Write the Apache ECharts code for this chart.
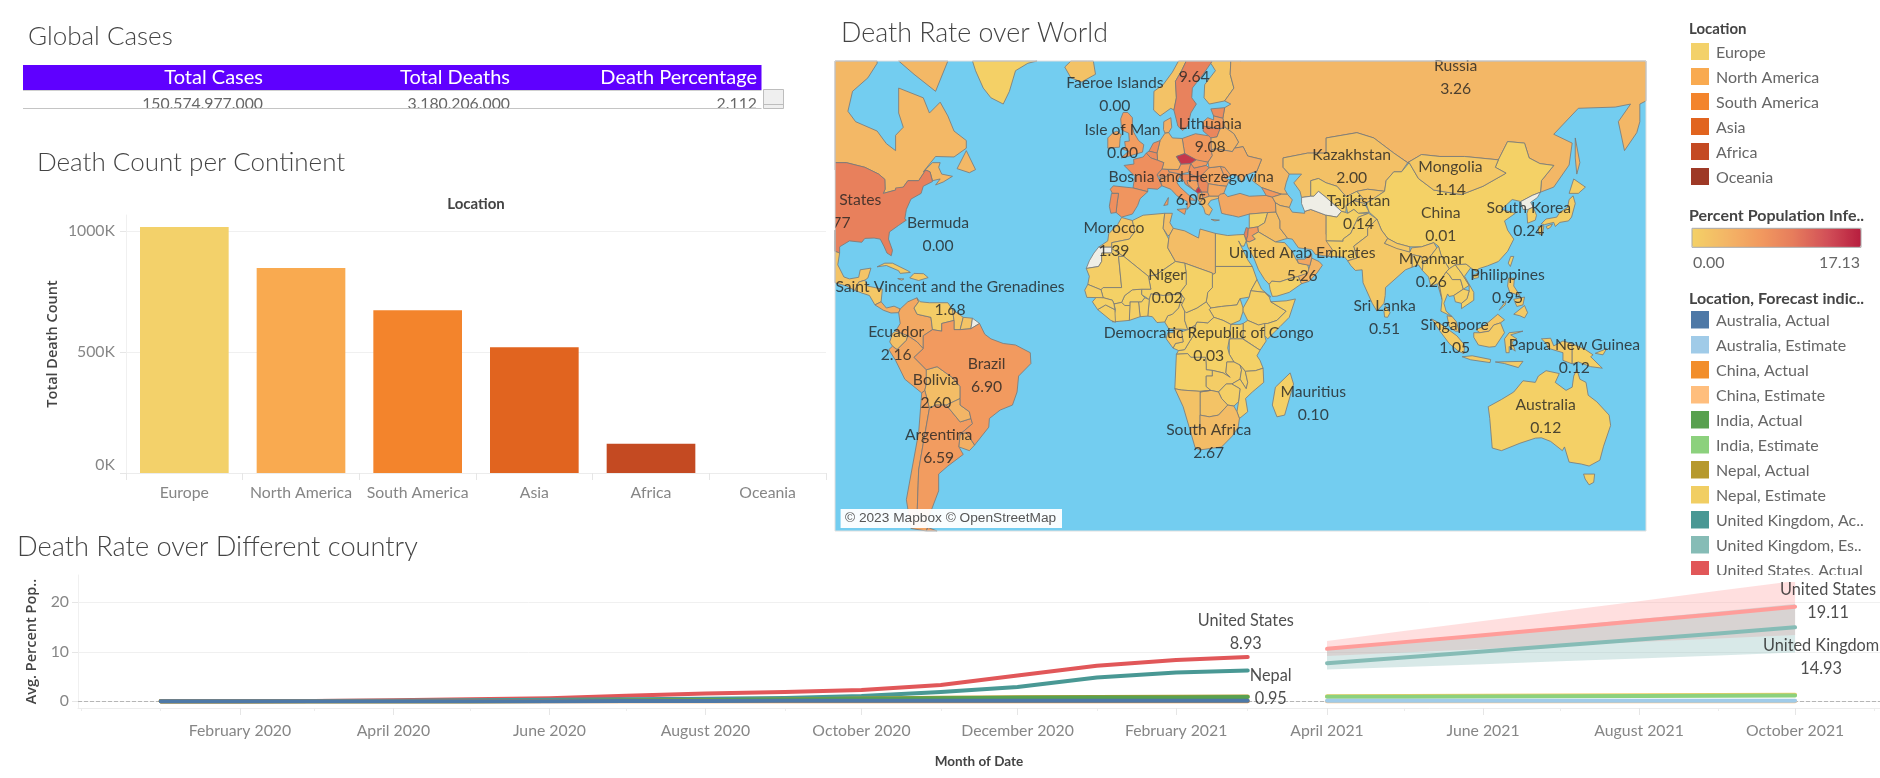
<!DOCTYPE html>
<html><head><meta charset="utf-8">
<style>html,body{margin:0;padding:0;background:#fff}#c{width:1880px;height:778px}</style>
<script src="https://cdn.jsdelivr.net/npm/echarts@6/dist/echarts.min.js"></script>
</head><body><div id="c"></div>
<script>
// ---------- DATA ----------
const tableHeaders = ['Total Cases','Total Deaths','Death Percentage'];
const tableValues = ['150,574,977.000','3,180,206.000','2.112'];

const continents = ['Europe','North America','South America','Asia','Africa','Oceania'];
const continentDeaths = [1016000,847000,672000,520000,121000,0];
const continentColors = ['#f3d16a','#f9aa50','#f3842c','#e1641f','#c44a22','#9e3926'];
const barTicks = [0,500000,1000000];

const forecastLegend = ['Australia, Actual','Australia, Estimate','China, Actual','China, Estimate','India, Actual','India, Estimate','Nepal, Actual','Nepal, Estimate','United Kingdom, Ac..','United Kingdom, Es..','United States, Actual'];
const forecastColors = ['#4e79a7','#a0cbe8','#f28e2b','#ffbe7d','#59a14f','#8cd17d','#b6992d','#f1ce63','#499894','#86bcb6','#e15759'];

const actualMonths = ['2020-01','2020-02','2020-03','2020-04','2020-05','2020-06','2020-07','2020-08','2020-09','2020-10','2020-11','2020-12','2021-01','2021-02','2021-03'];
const estimateMonths = ['2021-04','2021-05','2021-06','2021-07','2021-08','2021-09','2021-10'];
const usActual        = [0,0.01,0.05,0.2,0.4,0.6,1.1,1.6,1.9,2.3,3.3,5.2,7.2,8.35,8.93];
const ukActual        = [0,0,0.05,0.1,0.2,0.3,0.4,0.5,0.65,1.05,1.9,2.9,4.8,5.8,6.2];
const nepalActual     = [0,0,0,0,0.01,0.05,0.1,0.2,0.35,0.55,0.72,0.82,0.88,0.92,0.95];
const indiaActual     = [0,0,0,0,0.01,0.05,0.1,0.22,0.38,0.52,0.62,0.7,0.75,0.78,0.85];
const chinaActual     = [0,0.01,0.01,0.01,0.01,0.01,0.01,0.01,0.01,0.01,0.01,0.01,0.01,0.01,0.01];
const australiaActual = [0,0,0.02,0.03,0.03,0.03,0.05,0.08,0.1,0.11,0.11,0.11,0.11,0.11,0.12];
const usEstimate      = [10.6,11.95,13.35,14.75,16.2,17.65,19.11];
const usUpper         = [12.2,14.2,16.2,18.2,20.2,22.3,24.3];
const usLower         = [9.16,9.85,10.55,11.25,11.95,12.7,13.4];
const ukEstimate      = [7.7,8.85,10.05,11.25,12.5,13.7,14.93];
const ukUpper         = [10.6,12.1,13.6,15.1,16.6,18.15,19.66];
const ukLower         = [6.4,6.95,7.5,8.1,8.65,9.25,9.83];
const nepalEstimate   = [1.0,1.05,1.1,1.15,1.2,1.25,1.3];
const indiaEstimate   = [0.9,0.94,0.98,1.02,1.06,1.1,1.15];
const chinaEstimate   = [0.01,0.01,0.01,0.01,0.01,0.01,0.01];
const australiaEstimate = [0.1,0.1,0.11,0.11,0.11,0.12,0.12];
const lineTickMonths = ['2020-02','2020-04','2020-06','2020-08','2020-10','2020-12','2021-02','2021-04','2021-06','2021-08','2021-10'];
const lineMinorMonths = ['2019-12','2020-01','2020-03','2020-05','2020-07','2020-09','2020-11','2021-01','2021-03','2021-05','2021-07','2021-09','2021-11'];
const lineYTicks = [0,10,20];
const monthNames = ['January','February','March','April','May','June','July','August','September','October','November','December'];
const lineLabelNames = ['United States','Nepal','United States','United Kingdom'];
const lineLabelRates = ['8.93','0.95','19.11','14.93'];
const lineLabelMonths = ['2021-03','2021-03','2021-10','2021-10'];
const lineLabelValues = [8.93,0.95,19.11,14.93];

// labelled map places
const placeNames = ['Russia','','Faeroe Islands','Isle of Man','Lithuania','Bosnia and Herzegovina','Kazakhstan','Mongolia','Tajikistan','China','South Korea','Bermuda','Morocco','United Arab Emirates','Myanmar','Niger','Philippines','Saint Vincent and the Grenadines','Sri Lanka','Singapore','Ecuador','Democratic Republic of Congo','Papua New Guinea','Brazil','Bolivia','Mauritius','Australia','South Africa','Argentina','United States'];
const placeRates = [3.26,9.64,0.00,0.00,9.08,6.05,2.00,1.14,0.14,0.01,0.24,0.00,1.39,5.26,0.26,0.02,0.95,1.68,0.51,1.05,2.16,0.03,0.12,6.90,2.60,0.10,0.12,2.67,6.59,9.77];
const placeLon = [103.1,18.1,-7.7,-5.2,23.3,17.1,69.3,101.4,71.5,98.3,126.9,-65.2,-8.0,53.2,95.2,9.3,120,-61.3,80,102.8,-78.8,22.8,141.7,-49.4,-65.9,56.8,132.4,22.8,-65,-98.7];
const placeLat = [64.1,64.1,61.6,53.4,54.4,43.2,48.1,45.5,37.3,34,35.4,31.3,30,22.6,20.7,15.7,16,12.1,6.1,-0.1,-2.5,-2.8,-6.8,-12.8,-17.9,-21.4,-25.5,-32.6,-33.9,37.6];

// percent of population per country (choropleth)
const countryRates = {
 'United States':9.77,Canada:3.2,Mexico:1.7,Guatemala:1.2,Panama:4.2,Cuba:0.8,Hispaniola:0.9,Jamaica:1.6,Greenland:0.1,Iceland:1.9,
 'United Kingdom':6.5,Ireland:4.9,Norway:1.9,Sweden:9.64,Finland:1.6,Denmark:4.3,Estonia:8.5,Latvia:6.5,Lithuania:9.08,Belarus:3.7,Poland:7.0,Germany:3.7,Netherlands:8.2,Belgium:8.5,France:8.1,Spain:7.4,Portugal:8.1,Italy:6.5,Sicily:6.5,Sardinia:6.5,Switzerland:7.5,Austria:6.8,Czechia:15.4,Slovakia:7.0,Hungary:8.0,Croatia:8.0,'Bosnia and Herzegovina':6.05,Serbia:8.8,Montenegro:15.5,Albania:4.4,'North Macedonia':6.7,Romania:5.4,Bulgaria:5.3,Greece:3.0,Crete:3.0,Moldova:6.0,Ukraine:4.5,
 Russia:3.26,Sakhalin:3.26,Turkey:5.3,Georgia:7.0,Azerbaijan:3.2,Syria:0.1,Israel:9.7,Jordan:6.7,Iraq:2.6,'Saudi Arabia':1.2,Yemen:0.02,Oman:3.5,'United Arab Emirates':5.26,Iran:2.9,Uzbekistan:0.25,Kazakhstan:2.0,Kyrgyzstan:1.4,Tajikistan:0.14,Afghanistan:0.15,Pakistan:0.36,India:1.2,Nepal:1.0,Bangladesh:0.45,'Sri Lanka':0.51,
 China:0.01,Hainan:0.01,Mongolia:1.14,Taiwan:0.01,'South Korea':0.24,Honshu:0.4,Hokkaido:0.4,Kyushu:0.4,Shikoku:0.4,Myanmar:0.26,Thailand:0.1,Laos:0.01,Vietnam:0.01,Cambodia:0.1,'Malaysia':1.1,'Sarawak':1.1,Sumatra:0.6,Java:0.6,Kalimantan:0.6,Sulawesi:0.6,'West Papua':0.6,Sunda:0.6,Luzon:0.95,Mindanao:0.95,Visayas:0.95,Palawan:0.95,'Papua New Guinea':0.12,'New Britain':0.12,Australia:0.12,Tasmania:0.12,
 Morocco:1.39,Mauritania:0.4,Algeria:0.27,Tunisia:2.3,Libya:2.5,Egypt:0.2,Sudan:0.08,'South Sudan':0.1,Eritrea:0.1,Ethiopia:0.2,Somalia:0.08,Kenya:0.27,Uganda:0.09,Tanzania:0.01,'Democratic Republic of Congo':0.03,Congo:0.18,Gabon:1.0,Cameroon:0.25,'Central African Republic':0.1,Chad:0.03,Niger:0.02,Nigeria:0.08,Benin:0.1,Ghana:0.3,Burkina:0.06,Mali:0.05,'Ivory Coast':0.17,Liberia:0.1,Guinea:0.17,Senegal:0.23,Angola:0.07,Zambia:0.5,Malawi:0.17,Mozambique:0.22,Zimbabwe:0.25,Botswana:1.8,Namibia:1.9,'South Africa':2.67,Madagascar:0.1,
 Colombia:5.2,Venezuela:0.6,Guyana:1.5,Suriname:1.6,Ecuador:2.16,Peru:5.3,Bolivia:2.6,Chile:5.8,Argentina:6.59,'Tierra del Fuego':6.59,Paraguay:3.5,Uruguay:4.2,Brazil:6.9
};
const noDataCountries = ['Western Sahara','Turkmenistan','French Guiana','North Korea'];

// simplified outlines, flat lon,lat lists (painted in this order)
const countryOutlines = {
'Canada':[-125,49,-95,49,-89,48,-84.5,46.5,-82.5,45.3,-82.4,43,-83,42,-79,42.8,-76.5,43.5,-75,45,-71.5,45,-69.2,47.4,-67.8,47,-67,45,-64.5,45.4,-66,44,-63.5,44.7,-60.5,46,-64,46.5,-65,48,-64.5,49,-67,49,-70,47,-66,50.3,-60,50.2,-56,52,-56,53.5,-60,55.3,-62,58,-64.5,60.3,-68,58.5,-70,61,-78,62.5,-78,58.5,-76.5,56,-79,54.5,-79,51.5,-82,52.9,-85,55.3,-92,57,-94.5,58.8,-93,62,-88,64,-85,66,-85,67,-125,67],
'Baffin':[-78,67,-73,64.5,-66,62,-62,67],
'Newfoundland':[-59,47.7,-56,51.5,-53,47.5,-55,46.8],
'United States':[-125,49,-95,49,-89,48,-84.5,46.5,-82.5,45.3,-82.4,43,-83,42,-79,42.8,-79,43.3,-76.5,43.5,-75,45,-71.5,45,-69.2,47.4,-67.8,47,-67,44.8,-70,43.7,-70.7,42,-74,40.6,-75.5,38,-76,35.5,-75.5,35.2,-78,33.8,-81,32,-81.3,30,-80,26.8,-80.4,25.2,-81.8,26,-82.8,28,-84,30,-86,30.3,-89,30.2,-90,29.1,-94,29.5,-97.2,27.8,-97.2,26,-99,26.5,-101,29.7,-106,31.8,-117,32.5,-125,40],
'Mexico':[-117,32.5,-106,31.8,-101,29.7,-99,26.5,-97.2,26,-97.8,22.5,-95.8,18.8,-94,18.2,-91,18.7,-90.5,21,-87,21.5,-88,18.5,-89,17.8,-91,17.2,-92.2,14.6,-95,16,-100,17,-105,20,-110,27],
'Guatemala':[-92.2,14.6,-91,17.2,-89,17.8,-88.2,16,-83.3,15,-83.7,11,-85.7,10,-87.5,13,-90,13.8],
'Panama':[-83.7,11,-82,9,-79.5,9.6,-77.5,8.7,-78,7.5,-80.5,7.4,-83,8.3,-85.7,10],
'Cuba':[-85,21.9,-82.5,23,-80,23,-75,20.7,-74.2,20.2,-77.5,19.9,-78,20.7,-82,22.3],
'Hispaniola':[-74.4,18.5,-73,19.9,-69.9,19.8,-68.4,18.6,-71.5,17.7],
'Jamaica':[-78.3,18.3,-76.3,18.2,-77,17.8],
'Greenland':[-54,67,-53,65,-50.5,62.5,-48,61,-44,60,-42,62,-40,65,-36,66,-33,67],
'Iceland':[-24,65.5,-22,64,-18.5,63.4,-14,64.5,-14.7,66.3,-16.5,66.5,-22,66.3],
'United Kingdom':[-5.7,50,-3.5,50.3,1.3,51.2,1.7,52.7,0,53.5,-1.5,55,-2,56,-2,57.7,-3.5,58.6,-5,58.6,-5.8,57.5,-5.5,55.5,-3.2,54.9,-3,53.4,-4.5,53.3,-4.3,52.3,-5.2,51.8,-3.2,51.4],
'Ireland':[-10,52,-6.2,52.2,-6,53.9,-5.6,54.6,-7,55.3,-8.3,55,-10,54],
'Norway':[4.9,59,7,58,10.5,59.3,11.5,59,12.3,61,12,63.5,14,65,15.5,67,13,67,11,64.8,8,63,5,62],
'Sweden':[11.5,59,12.8,56.2,14.3,55.4,16,56.2,17,58.5,18.8,60,17.3,61,17.5,62.5,21,64.5,23.5,66,24,67,15.5,67,14,65,12,63.5,12.3,61],
'Finland':[24,67,23.5,66,25,65,21.5,63,21.3,61,23,60,28,60.5,31,62.5,29.8,64.5,30,67],
'Denmark':[8.2,57,10.5,57.7,10.8,56,9.8,55,8.6,54.9,8.1,55.6],
'Russia':[28,59.4,30,60,28,60.5,31,62.5,29.8,64.5,30,67,170,67,170,60.5,163,60,163,57,162,55,158,51.5,156,57,160,60,155,59.5,143,59.3,135,54.7,141,53,140,48.5,135,43.5,130.7,42.3,131,45,135,48.4,130.5,48.8,127,50,125.5,53,120,53.3,117,49.6,106,50.3,98,50.3,92,50.7,87.5,49,83,51,76.5,54,71,55,61,54,61,51,55,51,47,50,47,48,49,46.5,48,44.5,47.5,43,48.4,41.8,46.5,41.8,43.5,42.5,40,43.4,37,45,38.5,47.2,40,49.7,35.5,50.4,34,52.3,31.2,52,32.5,53.2,31,54.8,28.1,56,27.4,57.6],
'Sakhalin':[142,54,143.5,49,142.5,46.5,142,50],
'Estonia':[23.5,59.2,28,59.4,27.4,57.6,24.4,58],
'Latvia':[21,57,22.5,57.7,24.4,57.3,24.4,58,27.4,57.6,28.1,56,26.5,55.7,21,56.2],
'Lithuania':[21,56.2,26.5,55.7,25.5,54.2,23.5,54,22.8,54.4,21,55.3],
'Belarus':[23.5,54,25.5,54.2,26.5,55.7,28.1,56,31,54.8,32.5,53.2,31.2,52,30.5,51.3,25,51.9,23.6,51.6],
'Poland':[14.2,53.9,18.5,54.8,22.8,54.4,23.5,54,23.6,51.6,24,50.5,22.6,49.1,19,49.4,15,50.9,14.7,52],
'Germany':[6,51,7,53.5,8.6,54.9,9.8,55,11,54,14.2,53.9,14.7,52,15,50.9,12.3,50.3,13.8,48.7,13,47.5,7.6,47.6,8.2,49,6.2,49.5],
'Netherlands':[3.4,51.4,4.8,53,7,53.5,6,51],
'Belgium':[2.5,51,3.4,51.4,6,51,6.2,49.5,4,50],
'France':[2.5,51,4,50,6.2,49.5,8.2,49,7.6,47.6,6,46.3,7.6,43.8,6.2,43,3,43.2,3,42.4,-1.8,43.3,-1.2,46,-4.7,48.4,-1.5,48.7,-1.6,49.7,1.5,50.2],
'Spain':[-9.2,43,-8.2,43.8,-1.8,43.3,3,42.4,0.5,40.7,-0.3,39,-2,36.8,-5.5,36,-7.3,37.2,-7,39.5,-6.5,42,-8.5,42],
'Portugal':[-8.8,42,-6.5,42,-7,39.5,-7.3,37.2,-9,37,-9.5,38.8],
'Italy':[7.6,43.8,6.9,45.8,10,47,13.7,46.5,12.5,44.5,13.5,43.5,16,41.8,18.5,40.2,16.8,40.4,16.8,38.9,15.8,38,15.8,40,12.5,41.4,10.5,43],
'Sicily':[12.5,38,15.5,38.2,15,36.7],
'Sardinia':[8.2,39,9.7,41,9.5,39.2],
'Switzerland':[6,46.3,7.6,47.6,9.6,47.5,10,46.8,9,45.9,6.9,45.8],
'Austria':[9.6,47.5,13,47.5,13.8,48.7,17,48.8,16.2,46.9,13.7,46.5,10,47],
'Czechia':[12.3,50.3,15,50.9,18.8,49.6,17,48.8,13.8,48.7],
'Slovakia':[17,48.8,18.8,49.6,19,49.4,22.6,49.1,22,48.4,18,47.8],
'Hungary':[16.2,46.9,17,48.8,18,47.8,22,48.4,22.9,47.9,21,46.2,18.8,45.9,16.6,46.5],
'Croatia':[13.6,45.5,13.7,46.4,16.6,46.5,18.9,45.9,19.2,45,15.8,45,16,44.2,17.7,43,18.5,42.5,15.2,44.2,14.5,45.2],
'Bosnia and Herzegovina':[15.8,45,19.2,45,19.5,43.6,18.5,42.6,17.7,43,16,44.2],
'Serbia':[19.2,45,18.9,45.9,20.3,46.1,22.7,44.3,22.5,42.3,20.5,42.3,19.5,43.6],
'Montenegro':[18.5,42.5,19.5,43.6,20.5,42.3,19.3,42],
'Albania':[19.3,42,20.5,42.3,21,40.8,20,39.7,19.3,40.5],
'North Macedonia':[20.5,42.3,22.5,42.3,23,41.3,21,40.8],
'Romania':[20.3,46.1,22.9,47.9,26.6,48.2,28.2,45.5,29.7,45.2,28.6,43.7,26,43.9,22.7,44.3],
'Bulgaria':[22.7,44.3,26,43.9,28.6,43.7,27.7,42,26,41.3,23,41.3,22.5,42.3],
'Greece':[21,40.8,23,41.3,26,41.3,26,40.8,23.5,40.3,22.6,39.3,24,38,23,36.5,21.7,36.9,21.2,38.3,20,39.7],
'Crete':[23.6,35.4,26.3,35.2,24.8,35],
'Moldova':[26.6,48.2,28,48,30,46.2,28.2,45.5],
'Ukraine':[22.6,49.1,24,50.5,23.6,51.6,25,51.9,30.5,51.3,31.2,52,34,52.3,35.5,50.4,40,49.7,38.5,47.2,35,46.3,33.5,44.6,32.5,46,30.7,46.4,30,46.2,28,48,26.6,48.2,22.9,47.9],
'Turkey':[26,41.3,26,40.5,27,37,28.5,36.7,30.5,36.4,32.5,36,36,36.8,42,37.2,44.7,37.3,44.5,39.7,43.5,41.1,41.5,41.5,36,41.3,33,42,29,41.2,28,42,26.5,41.8],
'Georgia':[40,43.4,43.5,42.5,46.5,41.8,43.5,41.1,41.5,41.5],
'Azerbaijan':[43.5,41.1,46.5,41.8,48.4,41.8,50,40.4,49,38.5,46,39,44.5,39.7],
'Syria':[36,36.8,42,37.2,41,34.5,38.8,33.4,36,33],
'Israel':[34.3,31.3,35,33.2,35.7,33,35.5,31,35,29.5],
'Jordan':[35.5,31,35.7,33,38.8,33.4,39,32,37,31,38,30,36,29.2,35,29.5],
'Iraq':[42,37.2,44.7,37.3,46,35,46,33,48.5,30.2,47.5,30,44.5,29.2,39,32,38.8,33.4,41,34.5],
'Saudi Arabia':[35,29.5,36,29.2,38,30,37,31,39,32,44.5,29.2,47.5,29,48.5,28,50,26.5,51,24.5,52,23,55,22.5,55.7,20,52,19,48.7,18.2,46,17.3,43.3,17.5,42.5,16.5,41,18,39,21,37.5,24.5,35.5,27.8],
'Yemen':[43.3,17.5,46,17.3,48.7,18.2,52,19,53,16.7,49,14,45,12.8,43.5,12.7,42.8,14.8,42.5,16.5],
'Oman':[52,19,55,20,55.7,22.3,56.3,24.5,58.7,23.5,59.8,22.4,58,20,55.5,17.5,53,16.7],
'United Arab Emirates':[51.5,24.2,54,24.2,56.3,25.8,56.3,24.5,55.7,22.3,52,23],
'Iran':[44.5,39.7,46,39,49,38.5,50,37.3,54,37,54,37.5,56,38,61,36.5,61,31.5,61.7,29.5,63,27,61.7,25,57.5,25.6,56.3,27,52,27.5,50,30,48.5,30.2,46,33,46,35,44.7,37.3],
'Kazakhstan':[47,48,47,50,55,51,61,51,61,54,71,55,76.5,54,83,51,87.5,49,85.5,47,83,47,80.5,45,80,42.5,74.5,43,71,42.5,67.5,41.2,64.5,43.7,61,44.5,58.5,45.5,56,45,56,41.3,53,41,52.5,42.5,50.5,44.5,53,46.5,49,46.5],
'Uzbekistan':[56,41.3,56,45,58.5,45.5,61,44.5,64.5,43.7,67.5,41.2,71,42.5,73,40.8,70,40.2,67.5,39,67.4,37.2,66,37.5,61,41,58.5,42.5,57,41.3],
'Turkmenistan':[53,41,56,41.3,57,41.3,58.5,42.5,61,41,66,37.5,64.5,36,61,36.5,56,38,54,37.5,53,39.5],
'Kyrgyzstan':[71,42.5,74.5,43,80,42.5,76,40.5,73.5,39.5,70,40.2,73,40.8],
'Tajikistan':[67.5,39,70,40.2,73.5,39.5,75,37.3,71.5,37,70,38,68,37],
'Afghanistan':[61,36.5,64.5,36,66,37.5,67.4,37.2,68,37,70,38,71.5,37,74.8,37,71.5,36,70,33.5,69,31.6,66.5,30,66.5,29.4,61,29.5,61,31.5],
'Pakistan':[61,29.5,66.5,29.4,66.5,30,69,31.6,70,33.5,71.5,36,74.8,37,77.5,35.5,74.5,33,74.5,31,70,28,71,24.5,68,23.7,67,24.8,61.7,25,63,27],
'China':[74,39.5,75,37.3,77.5,35.5,79,32.5,81,30.2,84,28.8,88.2,27.8,92,27.8,96,29,97.5,28,98.5,25,101,21.3,103,22.5,106.5,22.7,108,21.6,110,20.4,110.5,21.3,113.5,22.2,117,23.5,120,26.5,122,30,120,32.5,119,35,122.5,37,118,38,121.5,40.5,124.3,40,128,41.5,130.7,42.3,131,45,135,48.4,130.5,48.8,127,50,125.5,53,120,53.3,117,49.6,116,48,119.5,46.7,112,43.7,105,41.7,96,42.8,91,45.5,88,49,85.5,47,83,47,80.5,45,80,42.5,76,40.5],
'India':[68,23.7,71,24.5,70,28,74.5,31,74.5,33,77.5,35.5,79,32.5,81,30.2,80,28.8,84,27.5,88.2,26.3,88.8,27.5,92,27.8,96,29,97,27.5,94,24,92,23,92,25,89,25.5,89,21.8,86.8,21,85,19.5,80.3,15.5,80.2,13,79.8,10.5,77.5,8,76,10.5,73,17,72.7,21,70.5,20.8,69,22.3],
'Nepal':[80,28.8,81,30.2,84,28.8,88.2,27.8,88.2,26.3,84,27.3],
'Bangladesh':[89,25.5,92,25,92.5,23,92.3,20.8,91,22.5,89,21.8],
'Sri Lanka':[79.8,8,80.2,9.7,81.8,7.5,81,6,80,6.1],
'Mongolia':[88,49,91,45.5,96,42.8,105,41.7,112,43.7,119.5,46.7,116,48,117,49.6,106,50.3,98,50.3,92,50.7,87.5,49],
'Hainan':[108.7,19.3,110.5,20,110.5,18.6,109,18.3],
'Taiwan':[120.2,23,121,25,122,25,120.9,22],
'North Korea':[124.3,40,128,41.5,130.7,42.3,129.7,41,127.5,39.8,128.3,38.6,126.7,38,125,38],
'South Korea':[126.7,38,128.3,38.6,129.4,36.5,129,35.2,126.5,34.4,126.3,37],
'Honshu':[130.9,34.2,132.5,35.5,136,36,137,37.3,139.5,38.5,140,40.5,141.3,41.4,142,39.5,140.8,36,139.8,35,137,34.6,135.5,33.5,135,34.6,132,34],
'Hokkaido':[140,42,141.5,45.4,145.3,43.5,143,42],
'Kyushu':[130,33.5,131.8,33.7,131.3,31.2,130.2,31.4],
'Shikoku':[132.5,33.5,134.6,34.2,134,33.3,133,32.8],
'Myanmar':[92.3,20.8,92.5,23,94,24,97,27.5,97.5,28,98.5,25,101,21.3,100,20.3,97.7,17,98.7,11.7,98,14,97.2,16.7,95,15.9,94.3,18.8],
'Thailand':[97.7,17,100,20.3,101,19.5,102,18,104.7,18,105.6,15,102.5,13,101,12.7,100.5,13.5,99.3,10.5,100,8,102,6.2,101,6.7,98.3,8,98.7,11.7],
'Laos':[101,21.3,103,22.5,105,20,107.5,16.2,105.6,15,104.7,18,102,18,101,19.5,100,20.3],
'Vietnam':[103,22.5,106.5,22.7,108,21.6,106,19,109,14,109,11.5,105,8.8,105,10.5,106.8,12,107.5,14.5,107.5,16.2,105,20],
'Cambodia':[102.5,13,105.6,15,107.5,14.5,106.8,12,105,10.5,103,11],
'Malaysia':[100.3,6.5,102,6.2,103.4,4.5,104.2,1.5,103,1.5,101,3],
'Sarawak':[109.7,2,111.5,2.8,113.5,4.2,116.8,7,119,5.2,117.7,4.2,115.5,3.5,114,1.5,111,1],
'Sumatra':[95.3,5.5,98,4,103.5,0,106,-3,105.8,-5.8,104,-5,101,-2.5,98,1.5],
'Java':[105.2,-6.8,108.5,-6.5,114.5,-7.7,114.3,-8.7,108,-7.8],
'Kalimantan':[109,1,111,1,114,1.5,115.5,3.5,117.7,4.2,119,1,116,-3.5,114,-3.7,110.5,-3,109,-0.5],
'Sulawesi':[119.5,-5.5,119,-1,120.5,1,125,1.5,121,0.3,123,-1,121.5,-2,122.5,-5,120.5,-3.5,120.5,-5.5],
'West Papua':[131,-1,134,-0.8,135,-3.3,138,-1.7,141,-2.6,141,-9.1,138,-8,138,-5.5,133,-4,132.8,-2.8],
'Sunda':[116,-8.5,125,-8.3,123.5,-10.3,119,-9],
'Luzon':[120.3,18.5,122.2,18.4,122,16,124,13,120.7,14,120,16],
'Mindanao':[122,7,125.5,9.8,126.5,7.5,125.5,5.8,124,6.5],
'Visayas':[122,11.8,125.5,12.5,125,10,123,9.5],
'Palawan':[117.2,8.3,119.5,11.3,119.2,10],
'Papua New Guinea':[141,-2.6,145,-4.3,147.8,-6.2,147,-6.8,150.8,-10.5,147,-10,143,-8.5,141,-9.1],
'New Britain':[148.5,-5.7,152.2,-4.2,151,-6.2],
'Australia':[113.7,-22.5,114.2,-26,115,-34.3,118,-35,124,-33,129,-31.6,131,-31.5,134,-32.5,137.8,-35,138.5,-34,140,-38,144,-38.5,146.5,-39,150,-37.5,151.2,-33.8,153.5,-28,153,-25,149,-21,146.2,-19,145.5,-15,143.5,-14,142.5,-10.8,141.5,-13,141,-16.5,139,-17.5,135.5,-15,136.8,-12.2,132.5,-11.3,130,-13,129,-15,125,-14.5,122,-18,118,-20.3],
'Tasmania':[144.7,-41,148.3,-41,148,-43,146.5,-43.6,145.2,-42.2],
'Morocco':[-13,27.7,-8.7,27.7,-8.7,29,-3,30,-1.2,32.1,-2,35.1,-5.5,35.9,-6.8,34,-9.7,31.5,-10,29.5],
'Western Sahara':[-13,27.7,-8.7,27.7,-8.7,26,-12,26,-12,23.5,-13,22,-17,21.4,-16,23.7,-14.5,26],
'Mauritania':[-17,21.4,-13,22,-12,23.5,-12,26,-8.7,26,-8.7,27.3,-4.8,25,-6.5,25,-5.5,15.5,-11.5,15.5,-12.2,14.8,-16.5,16.5,-16,19],
'Algeria':[-1.2,32.1,-3,30,-8.7,29,-8.7,27.3,-4.8,25,3.2,19,5.8,19.5,12,23.5,9.5,27.5,9.8,30,8,33,8.5,37,1.5,36.5,-2,35.1],
'Tunisia':[8.5,37,11,37,10.2,34.5,11.3,33,10,31,9.5,31,8,33],
'Libya':[11.3,33,15,32.3,19.5,30.3,20,32.8,25,31.6,25,20,24,19.5,24,20,15,23,12,23.5,9.5,27.5,9.8,30,10,31],
'Egypt':[25,31.6,29,31,32,31.2,34.3,31.3,35,29.5,34.3,28,33.5,28,32.5,29.5,35.5,24,37,22,25,22],
'Sudan':[25,22,37,22,38.5,18,36.5,14.5,36,12.5,33,12,32,10,27,9.5,23.5,9,22,11,22.5,14,24,15.5,24,19.5,25,20],
'South Sudan':[23.5,9,27,9.5,32,10,33,12,34,9,34,8,33,5,30,3.7,27.5,5,24.5,6,23,8.5],
'Eritrea':[36.5,14.5,38.5,18,40,15,43,12.5,41,14],
'Ethiopia':[36,12.5,36.5,14.5,41,14,42.5,12.5,43,11,48,8,45,5,42,4,39,3.5,35.5,5,34,8,34,9],
'Somalia':[43,11,48,11.3,51,11.9,49,6,46,3,42,-1,41,0,41,4,42,4,45,5,48,8],
'Kenya':[34,4,35.5,5,39,3.5,41,4,41,0,41.5,-1.7,39.5,-4.7,34,-1,34,1],
'Uganda':[30,3.7,33,3.7,34,4,34,1,33.8,-1,30,-1,29.7,1],
'Tanzania':[29.5,-1,30,-1,33.8,-1,34,-1,39.5,-4.7,38.5,-6.5,39.5,-8,40.5,-10.5,38,-11.3,34.7,-11.5,33,-9.5,31,-8.5,29.5,-6],
'Democratic Republic of Congo':[12.3,-6,13,-4.8,15,-4.5,16.5,-2,17.8,0,18.5,3.5,19,4.5,22.5,4.2,24.5,6,27.5,5,30,3.7,29.7,1,30,-1,29.5,-1,29,-4,29.5,-6,31,-8.5,28.7,-8.5,28.4,-12,29.8,-13.4,27.5,-12,24,-11.2,22,-11,22,-9.5,21.8,-7,17,-7,16,-5.8],
'Congo':[11.2,-4,13,-4.8,15,-4.5,16.5,-2,17.8,0,18.5,3.5,16,2,14,1.3,14.5,-2,12,-2.5],
'Gabon':[9,-1,9.5,1,11.3,1,11.3,2.2,13.3,2.2,14,1.3,14.5,-2,12,-2.5,11.2,-4],
'Cameroon':[8.5,4.5,9.8,2.3,11.3,2.2,13.3,2.2,16,2,15,5,15,8,14,10,15,12,14.2,13,13,9,11,7,9.5,6.5],
'Central African Republic':[15,5,16,2,18.5,3.5,19,4.5,22.5,4.2,24.5,6,23,8.5,23.5,9,22,11,19,9,15.5,7.5,15,8],
'Chad':[15,23,24,20,24,19.5,24,15.5,22.5,14,22,11,19,9,15.5,7.5,15,8,14,10,15,12,14.2,13,13.5,14,15.5,16.5,15.5,20],
'Niger':[12,23.5,15,23,15.5,20,15.5,16.5,13.5,14,14.2,13,13.5,13.5,8,13,4,13.5,3.5,11.7,1,13.3,1,15,4,15,3.2,19,5.8,19.5],
'Nigeria':[3,6.4,3.5,11.7,4,13.5,8,13,13.5,13.5,14.2,13,13,9,11,7,9.5,6.5,8.5,4.5,6,4.3,4.5,6.2],
'Benin':[0.5,6.2,0,11,1,11,2,12.3,3.5,11.7,3,6.4],
'Ghana':[-3,5,-2.8,11,0,11,0.5,6.2],
'Burkina':[-5.5,10.8,-4.5,13,-2,14.8,1,15,1,13.3,2,12.3,1,11,0,11,-2.8,11,-2.8,9.8,-4.5,9.8],
'Mali':[-12.2,14.8,-11.5,15.5,-5.5,15.5,-6.5,25,-4.8,25,3.2,19,4,15,1,15,-2,14.8,-4.5,13,-5.5,10.8,-8,10.3,-8.5,11.5,-11.5,12.3],
'Ivory Coast':[-8.5,4.5,-7.5,8.5,-8,10.3,-5.5,10.8,-4.5,9.8,-2.8,9.8,-3,5],
'Liberia':[-13.3,8.5,-10.7,10,-7.7,8.5,-7.5,4.4,-9,5],
'Guinea':[-15,11,-13.7,12.5,-11.5,12.3,-8.5,11.5,-8,10.3,-7.7,8.5,-10.7,10,-13.3,8.5],
'Senegal':[-17.5,14.7,-16.5,16.5,-12.2,14.8,-11.5,12.3,-16.8,12.4],
'Angola':[11.8,-17,12.3,-6,16,-5.8,17,-7,21.8,-7,22,-9.5,22,-11,24,-11.2,24,-13,22,-13,22,-16.3,23.5,-17.5,20,-17.8,14,-17.4],
'Zambia':[22,-13,24,-13,24,-11.2,27.5,-12,29.8,-13.4,28.4,-12,28.7,-8.5,31,-8.5,33,-9.5,33.5,-11,33,-14,30.3,-15.5,28.5,-15.5,26,-18,23.5,-17.5,22,-16.3],
'Malawi':[33,-9.5,34.7,-11.5,35.5,-15,35,-17,33,-14,33.5,-11],
'Mozambique':[30.3,-15.5,33,-14,35,-17,35.5,-15,34.7,-11.5,38,-11.3,40.5,-10.5,40.7,-15,37,-18,34.8,-20,35.5,-24,32.8,-26,32,-24,32.5,-21,33,-17],
'Zimbabwe':[26,-18,28.5,-15.5,30.3,-15.5,33,-17,32.5,-21,31,-22.3,29,-22,27,-20],
'Botswana':[20,-18,23.5,-17.5,26,-18,27,-20,29,-22,26,-25,23,-25.5,20,-25,20,-22],
'Namibia':[11.8,-17,14,-17.4,20,-17.8,23.5,-17.5,20,-18,20,-22,20,-28.5,16.5,-28.6,14.5,-22.5],
'South Africa':[16.5,-28.6,20,-28.5,20,-25,23,-25.5,26,-25,29,-22,31,-22.3,32,-24,32.8,-26,32.4,-28.5,30.5,-31,27,-34,20,-34.8,18.4,-34.2],
'Madagascar':[49.3,-12,50.4,-15.5,47.5,-25,45,-25.5,43.5,-22,44.5,-16.5],
'Colombia':[-77.5,8.7,-75,11,-72,12.3,-71.5,11,-73,9,-72,7,-67.5,6,-67,2,-70,0,-70,-4.2,-72,-2,-75,0,-79,1.5,-77.5,4,-78,7.5],
'Venezuela':[-72,12,-71,11,-68,10.7,-62,10.7,-60.5,8.5,-60,5,-64,4,-64,1.5,-67,2,-67.5,6,-72,7,-73,9,-71.5,11],
'Guyana':[-60.5,8.5,-57,6,-58,2,-60,2,-60,5],
'Suriname':[-57,6,-54,5.7,-54.5,2.3,-58,2],
'French Guiana':[-54,5.7,-51.7,4,-54.5,2.3],
'Ecuador':[-80.9,-2,-80,0.8,-79,1.5,-75,0,-75.5,-1.5,-78.5,-4.5,-80,-3.4],
'Peru':[-81.2,-4.5,-80,-3.4,-78.5,-4.5,-75.5,-1.5,-75,0,-72,-2,-70,-4.2,-73,-7,-70.5,-9.5,-69,-11,-69,-15.5,-69.5,-17.5,-70.5,-18.3,-76,-14,-79,-8],
'Bolivia':[-69,-11,-65.5,-10,-60.5,-13.5,-58,-16.3,-58,-20,-62.5,-22,-66,-22,-68,-23,-69.5,-17.5,-69,-15.5],
'Chile':[-70.5,-18.3,-69.5,-17.5,-68,-23,-70,-33,-71.5,-40,-72,-50,-68.5,-52.5,-69,-55,-74,-53,-75.5,-47,-73.5,-39,-71.5,-30],
'Argentina':[-68,-23,-66,-22,-62.5,-22,-58,-27,-54.5,-26,-54,-27.5,-58,-30.5,-58.4,-34,-57,-36,-62,-39,-65,-41,-65,-45,-69,-52,-68.5,-52.5,-72,-50,-71.5,-40,-70,-33],
'Tierra del Fuego':[-68.5,-52.8,-65.5,-54.7,-69,-55],
'Paraguay':[-62.5,-22,-58,-20,-58,-22,-55,-24,-54.5,-26,-58,-27],
'Uruguay':[-58,-30.5,-56,-30,-53.3,-33.5,-55,-35,-58.4,-34],
'Brazil':[-73,-7,-70,-4.2,-70,0,-67,2,-64,1.5,-64,4,-60,5,-60,2,-58,2,-54.5,2.3,-51.7,4,-50,0.5,-48,-1,-44,-2.5,-40,-3,-35.2,-5.5,-35,-9,-39,-13,-39.5,-18,-41,-22,-45,-23.5,-48.5,-26,-48.7,-28.5,-53.3,-33.5,-56,-30,-58,-30.5,-54,-27.5,-54.5,-26,-55,-24,-58,-22,-58,-20,-58,-16.3,-60.5,-13.5,-65.5,-10,-69,-11,-70.5,-9.5]
};
countryRates['Baffin'] = 3.2; countryRates['Newfoundland'] = 3.2;

// ---------- BUILD ----------
const mapExtent = {w:-98.7, e:165, n:66.3, s:-53.5};
const RAD = Math.PI/180;
const clampLon = v => Math.max(mapExtent.w, Math.min(mapExtent.e, v));
const clampLat = v => Math.max(mapExtent.s, Math.min(mapExtent.n, v));
function ring(flat){const r=[];for(let i=0;i<flat.length;i+=2)r.push([clampLon(flat[i]),clampLat(flat[i+1])]);r.push(r[0].slice());return r;}
const features=[{type:'Feature',properties:{name:'Ocean'},geometry:{type:'Polygon',coordinates:[ring([mapExtent.w,mapExtent.n,mapExtent.e,mapExtent.n,mapExtent.e,mapExtent.s,mapExtent.w,mapExtent.s])]}}];
Object.keys(countryOutlines).forEach(n=>features.push({type:'Feature',properties:{name:n},geometry:{type:'Polygon',coordinates:[ring(countryOutlines[n])]}}));
echarts.registerMap('world',{type:'FeatureCollection',features});

const ms = s => {const [y,m]=s.split('-').map(Number);return new Date(y,m-1,1).getTime();};
const zip = (months,vals) => months.map((m,i)=>[ms(m),vals[i]]);
const DAY = 86400000;
const lineMin = ms('2019-12') - 1.33*DAY, lineMax = ms('2019-12') + 703.2*DAY;
const FONT='Lato', GREY='#868686';
const chart = echarts.init(document.getElementById('c'),null,{renderer:'canvas'});

const lineStyleFor = (name,color,months,vals,z) => ({name,type:'line',xAxisIndex:2,yAxisIndex:1,data:zip(months,vals),showSymbol:false,smooth:false,z,silent:true,
  lineStyle:{color,width:4,cap:'round',join:'round'},itemStyle:{color}});
const band = (name,color,upper,lower) => ({name,type:'custom',xAxisIndex:2,yAxisIndex:1,silent:true,z:2,
  data:estimateMonths.map((m,i)=>[ms(m),lower[i],upper[i]]),encode:{x:0,y:[1,2]},
  renderItem:(p,api)=>{ if(p.dataIndex!==0) return null;
    const t=estimateMonths.map(ms);
    const pts=t.map((v,i)=>api.coord([v,upper[i]])).concat(t.map((v,i)=>api.coord([v,lower[i]])).reverse());
    return {type:'polygon',shape:{points:pts},style:{fill:color,opacity:0.32}};
  }});
const lineLabelOffsets=[[-2,-25],[23,-9.5],[33,-5.5],[26,29.5]];

const series=[
 {name:'Deaths',type:'bar',xAxisIndex:0,yAxisIndex:0,barWidth:'76%',silent:true,
  data:continentDeaths.map((v,i)=>({value:v,itemStyle:{color:continentColors[i]}}))},
 band('United States band','#ff9d9a',usUpper,usLower),
 band('United Kingdom band','#86bcb6',ukUpper,ukLower),
 Object.assign(lineStyleFor('United States, Actual','#e15759',actualMonths,usActual,3),{markLine:{silent:true,symbol:'none',label:{show:false},lineStyle:{color:'#b5b5b5',type:'dashed',width:1},data:[{yAxis:0}]}}),
 lineStyleFor('United Kingdom, Actual','#499894',actualMonths,ukActual,4),
 lineStyleFor('Nepal, Actual','#b6992d',actualMonths,nepalActual,5),
 lineStyleFor('India, Actual','#59a14f',actualMonths,indiaActual,6),
 lineStyleFor('China, Actual','#f28e2b',actualMonths,chinaActual,7),
 lineStyleFor('Australia, Actual','#4e79a7',actualMonths,australiaActual,8),
 lineStyleFor('United States, Estimate','#ff9d9a',estimateMonths,usEstimate,3),
 lineStyleFor('United Kingdom, Estimate','#86bcb6',estimateMonths,ukEstimate,4),
 lineStyleFor('Nepal, Estimate','#f1ce63',estimateMonths,nepalEstimate,5),
 lineStyleFor('India, Estimate','#8cd17d',estimateMonths,indiaEstimate,6),
 lineStyleFor('China, Estimate','#ffbe7d',estimateMonths,chinaEstimate,7),
 lineStyleFor('Australia, Estimate','#a0cbe8',estimateMonths,australiaEstimate,8),
 {name:'End labels',type:'scatter',xAxisIndex:2,yAxisIndex:1,symbolSize:0,silent:true,z:20,
  data:lineLabelNames.map((n,i)=>({value:[ms(lineLabelMonths[i]),lineLabelValues[i]],
    label:{show:true,position:'inside',offset:lineLabelOffsets[i],formatter:n+'\n'+lineLabelRates[i],
      fontFamily:FONT,fontSize:16.3,lineHeight:23,color:'#222'}}))},
 {name:'Percent Population Infected',type:'map',geoIndex:0,
  data:Object.keys(countryRates).map(n=>({name:n,value:countryRates[n]}))},
 {name:'Places',type:'scatter',coordinateSystem:'geo',geoIndex:0,symbolSize:0,silent:true,z:20,
  data:placeNames.map((n,i)=>({name:n,value:[placeLon[i],placeLat[i]],
    label:{formatter:(n?n+'\n':'')+placeRates[i].toFixed(2)}})),
  label:{show:true,position:'inside',fontFamily:FONT,fontSize:15.7,lineHeight:23,color:'#222'}}
];
const mapSeriesIndex=series.findIndex(s=>s.type==='map');

// table, legends and labels
const graphic=[];
const gt=(x,y,text,o={})=>graphic.push({type:'text',x,y,z:o.z||50,silent:true,style:{text,fill:o.fill||'#555',font:(o.weight||'400')+' '+(o.size||14)+'px '+(o.family||FONT),align:o.align||'left',verticalAlign:'middle'}});
const gr=(x,y,w,h,fill,o={})=>graphic.push({type:'rect',x,y,z:o.z||50,silent:true,shape:{width:w,height:h},style:{fill,stroke:o.stroke||null,lineWidth:o.lw||0}});
// table
gr(23,65,738.5,25,'#5f00ff');
[263,510,757].forEach((x,i)=>{gt(x,78,tableHeaders[i],{fill:'#fff',size:20,align:'right',z:51});gt(x,104,tableValues[i],{fill:'#666',size:15.8,align:'right',z:40});});
gr(23,90,738.5,1,'#d0d0d0');
gr(0,108.5,800,16,'#fff',{z:45});
gr(23,108,738.5,1,'#c4c4c4',{z:46});
gr(763.5,89.5,20,19,'#efefef',{stroke:'#bdbdbd',lw:1});
gr(763.5,104,20,1,'#bdbdbd');
// map frame
gr(775,170,60,60,'#fff',{z:60});
gr(835,61,811,470,'transparent',{stroke:'#e0e0e0',lw:1,z:61});
gr(840.6,509,221.4,19,'rgba(255,255,255,0.95)',{z:60});
gt(845,518.5,'© 2023 Mapbox © OpenStreetMap',{family:'Liberation Sans',size:13.7,fill:'#555',z:61});
// legends
gt(1689,29.6,'Location',{weight:'700',size:15,fill:'#444'});
continents.forEach((n,i)=>{gr(1691,43+i*25,18,17,continentColors[i]);gt(1716,52.5+i*25,n,{size:16,fill:'#666'});});
gt(1689,215.7,'Percent Population Infe..',{weight:'700',size:16,fill:'#444'});
gr(1692,228.3,169,19,'transparent',{stroke:'#a8a8a8',lw:1,z:70});
gt(1693,262.7,'0.00',{size:16,fill:'#666'});
gt(1860,262.7,'17.13',{size:16,fill:'#666',align:'right'});
gt(1689,299,'Location, Forecast indic..',{weight:'700',size:16,fill:'#444'});
forecastLegend.forEach((n,i)=>{gr(1691,311+i*25,18,17.5,forecastColors[i],{z:40});gt(1716,320.5+i*25,n,{size:16,fill:'#666',z:40});});
gr(1680,575,200,7,'#fff',{z:45});

const tick={show:true,length:6,lineStyle:{color:'#e6e6e6'}};
const axisLab={color:GREY,fontFamily:FONT,fontSize:15.8};
const axisNameStyle={color:'#444',fontFamily:FONT,fontSize:13.5,fontWeight:700};
const axisNameVert={color:'#444',fontFamily:'Open Sans',fontSize:14.5,fontWeight:600};
const titleStyle=s=>({fontFamily:FONT,fontWeight:300,color:'#444',fontSize:s});

chart.setOption({
 animation:false,backgroundColor:'#fff',
 title:[
  {text:'Global Cases',left:28,top:24,padding:0,textStyle:titleStyle(26)},
  {text:'Death Count per Continent',left:37,top:150,padding:0,textStyle:titleStyle(26)},
  {text:'Death Rate over World',left:841,top:20,padding:0,textStyle:titleStyle(26.8)},
  {text:'Death Rate over Different country',left:17,top:534,padding:0,textStyle:titleStyle(27.2)}
 ],
 grid:[
  {left:126,top:215,width:700,height:258,outerBoundsMode:'none',containLabel:false},
  {left:78,top:575,width:1802,height:133,outerBoundsMode:'none',containLabel:false}
 ],
 xAxis:[
  {gridIndex:0,type:'category',data:continents,axisLine:{lineStyle:{color:'#ececec'}},axisTick:{show:true,length:7,lineStyle:{color:'#e6e6e6'}},
   axisLabel:Object.assign({},axisLab,{margin:12,interval:0}),splitLine:{show:false}},
  {gridIndex:0,type:'category',data:continents,position:'top',axisLine:{show:false},axisTick:{show:false},axisLabel:{show:false},splitLine:{show:false},
   name:'Location',nameLocation:'middle',nameGap:3,nameTextStyle:Object.assign({},axisNameStyle,{fontSize:15})},
  {gridIndex:1,type:'value',min:lineMin,max:lineMax,
   axisLine:{onZero:false,lineStyle:{color:'#ececec'}},axisTick:{show:true,length:7,lineStyle:{color:'#e6e6e6'},customValues:lineTickMonths.map(ms)},
   axisLabel:Object.assign({},axisLab,{margin:15,customValues:lineTickMonths.map(ms),hideOverlap:false,
     formatter:v=>{const d=new Date(v);return monthNames[d.getMonth()]+' '+d.getFullYear();}}),
   splitLine:{show:false},name:'Month of Date',nameLocation:'middle',nameGap:47,nameTextStyle:axisNameStyle},
  {gridIndex:1,type:'value',min:lineMin,max:lineMax,position:'bottom',
   axisLine:{show:false,onZero:false},axisTick:{show:true,length:3,lineStyle:{color:'#ececec'},customValues:lineMinorMonths.map(ms)},
   axisLabel:{show:false},splitLine:{show:false}}
 ],
 yAxis:[
  {gridIndex:0,type:'value',min:0,max:1066000,axisLine:{show:true,lineStyle:{color:'#f0f0f0'}},axisTick:Object.assign({},tick,{customValues:barTicks}),
   axisLabel:Object.assign({},axisLab,{margin:11,customValues:barTicks,verticalAlignMinLabel:'bottom',formatter:v=>(v/1000)+'K'}),
   splitLine:{show:true,lineStyle:{color:'#f0f0f0'}},name:'Total Death Count',nameLocation:'middle',nameGap:66,nameTextStyle:axisNameVert},
  {gridIndex:1,type:'value',min:-1.35,max:25.5,axisLine:{show:true,lineStyle:{color:'#f0f0f0'}},axisTick:Object.assign({},tick,{customValues:lineYTicks}),
   axisLabel:Object.assign({},axisLab,{margin:9,customValues:lineYTicks}),
   splitLine:{show:true,lineStyle:{color:'#f0f0f0'}},name:'Avg. Percent Pop..',nameLocation:'middle',nameGap:36,nameTextStyle:axisNameVert}
 ],
 geo:{map:'world',left:835,top:61,width:811,height:470,roam:false,silent:true,z:1,
  projection:{
   project:p=>[p[0]*RAD,-Math.log(Math.tan(Math.PI/4+p[1]*RAD/2))],
   unproject:p=>[p[0]/RAD,(2*Math.atan(Math.exp(-p[1]))-Math.PI/2)/RAD]
  },
  itemStyle:{areaColor:'#f3d16a',borderColor:'#777',borderWidth:0.8},
  label:{show:false},
  regions:[{name:'Ocean',itemStyle:{areaColor:'#73cdf0',borderWidth:0}}].concat(noDataCountries.map(n=>({name:n,itemStyle:{areaColor:'#efeee6'}})))},
 visualMap:[{type:'continuous',min:0,max:17.13,seriesIndex:mapSeriesIndex,orient:'horizontal',left:1692,top:228.3,itemWidth:19,itemHeight:169,padding:0,
  calculable:false,realtime:false,text:null,showLabel:false,hoverLink:false,
  inRange:{color:['#f4d166','#f3b666','#f29a5f','#e67c5c','#d25058','#b71d3e']}}],
 series,graphic
});
</script></body></html>
